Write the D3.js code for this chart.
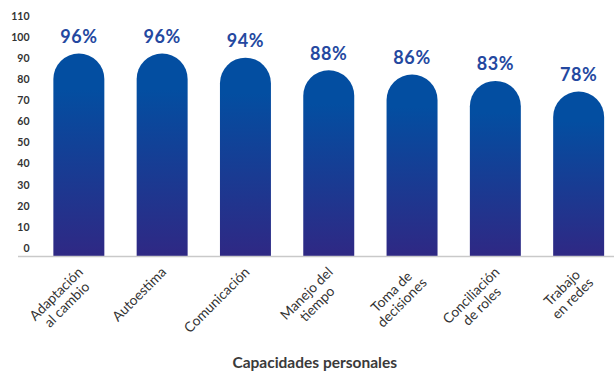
<!DOCTYPE html>
<html>
<head>
<meta charset="utf-8">
<script src="https://cdn.jsdelivr.net/npm/d3@7"></script>
<style>
  html, body { margin: 0; padding: 0; background: #fff; }
  svg { display: block; }
</style>
</head>
<body>
<div id="chart"></div>
<script>
const categories = [
  ["Adaptación", "al cambio"],
  ["Autoestima"],
  ["Comunicación"],
  ["Manejo del", "tiempo"],
  ["Toma de", "decisiones"],
  ["Conciliación", "de roles"],
  ["Trabajo", "en redes"]
];
const values = [96, 96, 94, 88, 86, 83, 78];
const yTicks = [0, 10, 20, 30, 40, 50, 60, 70, 80, 90, 100, 110];
const axisTitle = "Capacidades personales";

const W = 614, H = 372;
const font = "Lato, 'Open Sans', sans-serif";

const svg = d3.select("#chart").append("svg")
  .attr("width", W).attr("height", H);

const defs = svg.append("defs");
const grad = defs.append("linearGradient")
  .attr("id", "barGrad")
  .attr("x1", 0).attr("y1", 0).attr("x2", 0).attr("y2", 1);
grad.append("stop").attr("offset", "0%").attr("stop-color", "#034ea1");
grad.append("stop").attr("offset", "18%").attr("stop-color", "#034ea1");
grad.append("stop").attr("offset", "100%").attr("stop-color", "#2f2884");

const keys = categories.map(c => c.join(" "));
const x = d3.scaleBand()
  .domain(keys)
  .range([37.2, 620.3])
  .paddingInner(0.388)
  .paddingOuter(0.194);

const y = d3.scaleLinear().domain([0, 110]).range([256, 23.9]);

// y tick labels
const yAxis = d3.axisLeft(y).tickValues(yTicks).tickSize(0).tickPadding(0);
const yg = svg.append("g").attr("transform", "translate(29.5,-8)").call(yAxis);
yg.select(".domain").remove();
yg.selectAll("text")
  .attr("font-family", font)
  .attr("font-size", 10.5)
  .attr("font-weight", 700)
  .attr("fill", "#333");

// bars with rounded tops
const bw = x.bandwidth();
const r = bw / 2;
function barPath(d, i) {
  const x0 = x(keys[i]);
  const top = y(d);
  const base = y(0);
  return `M${x0},${base} L${x0},${top + r} A${r},${r} 0 0 1 ${x0 + bw},${top + r} L${x0 + bw},${base} Z`;
}
svg.append("g").selectAll("path")
  .data(values)
  .join("path")
  .attr("d", barPath)
  .attr("fill", "url(#barGrad)");

// value labels
svg.append("g").selectAll("text")
  .data(values)
  .join("text")
  .attr("x", (d, i) => x(keys[i]) + bw / 2)
  .attr("y", d => y(d) - 10.5)
  .attr("text-anchor", "middle")
  .attr("font-family", font)
  .attr("font-size", 18)
  .attr("font-weight", 700)
  .attr("letter-spacing", 0.6)
  .attr("fill", "#2448a0")
  .text(d => d + "%");

// x axis baseline
const xAxis = d3.axisBottom(x).tickSize(0).tickFormat("");
const xg = svg.append("g").attr("transform", `translate(0,${y(0)})`).call(xAxis);
xg.select(".domain")
  .attr("d", `M18,0.5H614`)
  .attr("stroke", "#c9c9c9")
  .attr("stroke-width", 1.5);

// x category labels (rotated, multi-line, centered lines)
const lab = svg.append("g");
categories.forEach((lines, i) => {
  const cx = x(keys[i]) + bw / 2;
  const g = lab.append("g")
    .attr("transform", `translate(${cx + 5},${273}) rotate(-45)`);
  const t = g.append("text")
    .attr("font-family", font)
    .attr("font-size", 13.8)
    .attr("fill", "#333")
    .attr("text-anchor", "middle");
  const spans = lines.map((ln, j) => t.append("tspan").attr("y", j * 15).text(ln));
  const widths = spans.map(s => s.node().getComputedTextLength());
  const maxW = d3.max(widths);
  spans.forEach(s => s.attr("x", -maxW / 2));
});

// axis title
svg.append("text")
  .attr("x", 314.7)
  .attr("y", 368)
  .attr("text-anchor", "middle")
  .attr("font-family", font)
  .attr("font-size", 15.5)
  .attr("font-weight", 700)
  .attr("fill", "#3a3a3a")
  .text(axisTitle);
</script>
</body>
</html>
